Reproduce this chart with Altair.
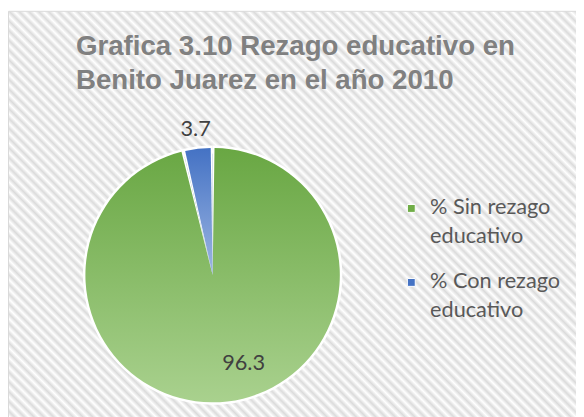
import math
import altair as alt
import pandas as pd

# ---- data ----
categories = ["% Sin rezago educativo", "% Con rezago educativo"]
values = [96.3, 3.7]
value_labels = ["96.3", "3.7"]
order = [1, 2]

title_lines = ["Grafica 3.10 Rezago educativo en", "Benito Juarez en el año 2010"]

df = pd.DataFrame({"categoria": categories, "valor": values,
                   "etiqueta": value_labels, "orden": order})

# ---- layout / style ----
PLOT_W, PLOT_H = 415, 266
PAD = {"left": 0, "top": 135, "right": 161, "bottom": 8}
R = 129

# striped background via a linear gradient with hard stops
RW, RH = 600.0, 430.0
period = 7.0
s = (RW + RH) * RW / (RW ** 2 + RH ** 2)
dt = period * math.sqrt(2) / (RW + RH)
stops = []
k = 0
while k * dt / 2 <= 1.0:
    stops.append({"offset": round(k * dt / 2, 5),
                  "color": "#ffffff" if k % 2 == 0 else "#dbdbdb"})
    k += 1
stripes = alt.LinearGradient(gradient="linear", stops=stops,
                             x1=0, y1=1, x2=s, y2=1 - s * RH / RW)

green_grad = alt.LinearGradient(gradient="linear", x1=0, y1=0, x2=0, y2=1,
                                stops=[alt.GradientStop(offset=0, color="#69a743"),
                                       alt.GradientStop(offset=1, color="#a9d18e")])
blue_grad = alt.LinearGradient(gradient="linear", x1=0, y1=0, x2=0, y2=1,
                               stops=[alt.GradientStop(offset=0, color="#4472c4"),
                                      alt.GradientStop(offset=1, color="#9db6e2")])

bg = alt.Chart(pd.DataFrame({"a": [0]})).mark_rect(
    fill=stripes, stroke="#d9d9d9", strokeWidth=1
).encode(x=alt.value(0.5), x2=alt.value(0.5 + RW),
         y=alt.value(-134.5), y2=alt.value(-134.5 + RH))

base = alt.Chart(df).transform_joinaggregate(
    total="sum(valor)"
).transform_window(
    fin="sum(valor)", sort=[alt.SortField("orden")], frame=[None, 0]
).transform_calculate(
    t0="(datum.fin - datum.valor) / datum.total",
    t1="datum.fin / datum.total",
    tm="(datum.fin - datum.valor / 2) / datum.total",
)

theta_scale = alt.Scale(domain=[0, 1])

legend_layer = base.mark_arc(radius=R - 6).encode(
    theta=alt.Theta("t0:Q", stack=None, scale=theta_scale),
    theta2="t1:Q",
    color=alt.Color(
        "categoria:N",
        scale=alt.Scale(domain=categories, range=["#70ad47", "#4472c4"]),
        legend=alt.Legend(
            title=None, orient="none", legendX=398, legendY=60,
            symbolType="M-1,-2.4H1V-0.4H-1Z", symbolSize=64,
            symbolStrokeColor="white", symbolStrokeWidth=1,
            labelFont="Lato", labelFontSize=22, labelColor="#595959",
            labelBaseline="alphabetic", labelLimit=0, labelOffset=8,
            rowPadding=24,
            labelExpr="[substring(datum.label, 0, lastindexof(datum.label, ' ')), "
                      "substring(datum.label, lastindexof(datum.label, ' ') + 1)]",
        ),
    ),
)

white_disc = base.mark_arc(radius=R + 2.5, fill="white").encode(
    theta=alt.Theta("t0:Q", stack=None, scale=theta_scale), theta2="t1:Q")

green = base.transform_filter("datum.orden == 1").mark_arc(
    radius=R, padAngle=0.03, fill=green_grad
).encode(theta=alt.Theta("t0:Q", stack=None, scale=theta_scale), theta2="t1:Q")

blue = base.transform_filter("datum.orden == 2").mark_arc(
    radius=R, padAngle=0.03, fill=blue_grad
).encode(theta=alt.Theta("t0:Q", stack=None, scale=theta_scale), theta2="t1:Q")

text_green = base.transform_filter("datum.orden == 1").mark_text(
    font="Lato", fontSize=22, color="#404040", radius=90, dx=21, dy=0
).encode(theta=alt.Theta("tm:Q", stack=None, scale=theta_scale), text="etiqueta:N")

text_blue = base.transform_filter("datum.orden == 2").mark_text(
    font="Lato", fontSize=22, color="#404040", radius=149
).encode(theta=alt.Theta("tm:Q", stack=None, scale=theta_scale), text="etiqueta:N")

chart = alt.layer(bg, legend_layer, white_disc, green, blue,
                  text_green, text_blue).properties(
    width=PLOT_W, height=PLOT_H,
    padding=PAD,
    autosize=alt.AutoSizeParams(type="none"),
    title=alt.TitleParams(
        text=title_lines, anchor="start", frame="group", dx=69, dy=89,
        font="Liberation Sans", fontSize=28, fontWeight="bold",
        color="#808080", lineHeight=34,
    ),
).configure(
    view=alt.ViewConfig(strokeWidth=0),
    style={"guide-label": {"lineHeight": 29}},
)

chart.save("out.html", embed_options={"renderer": "svg", "actions": False})
